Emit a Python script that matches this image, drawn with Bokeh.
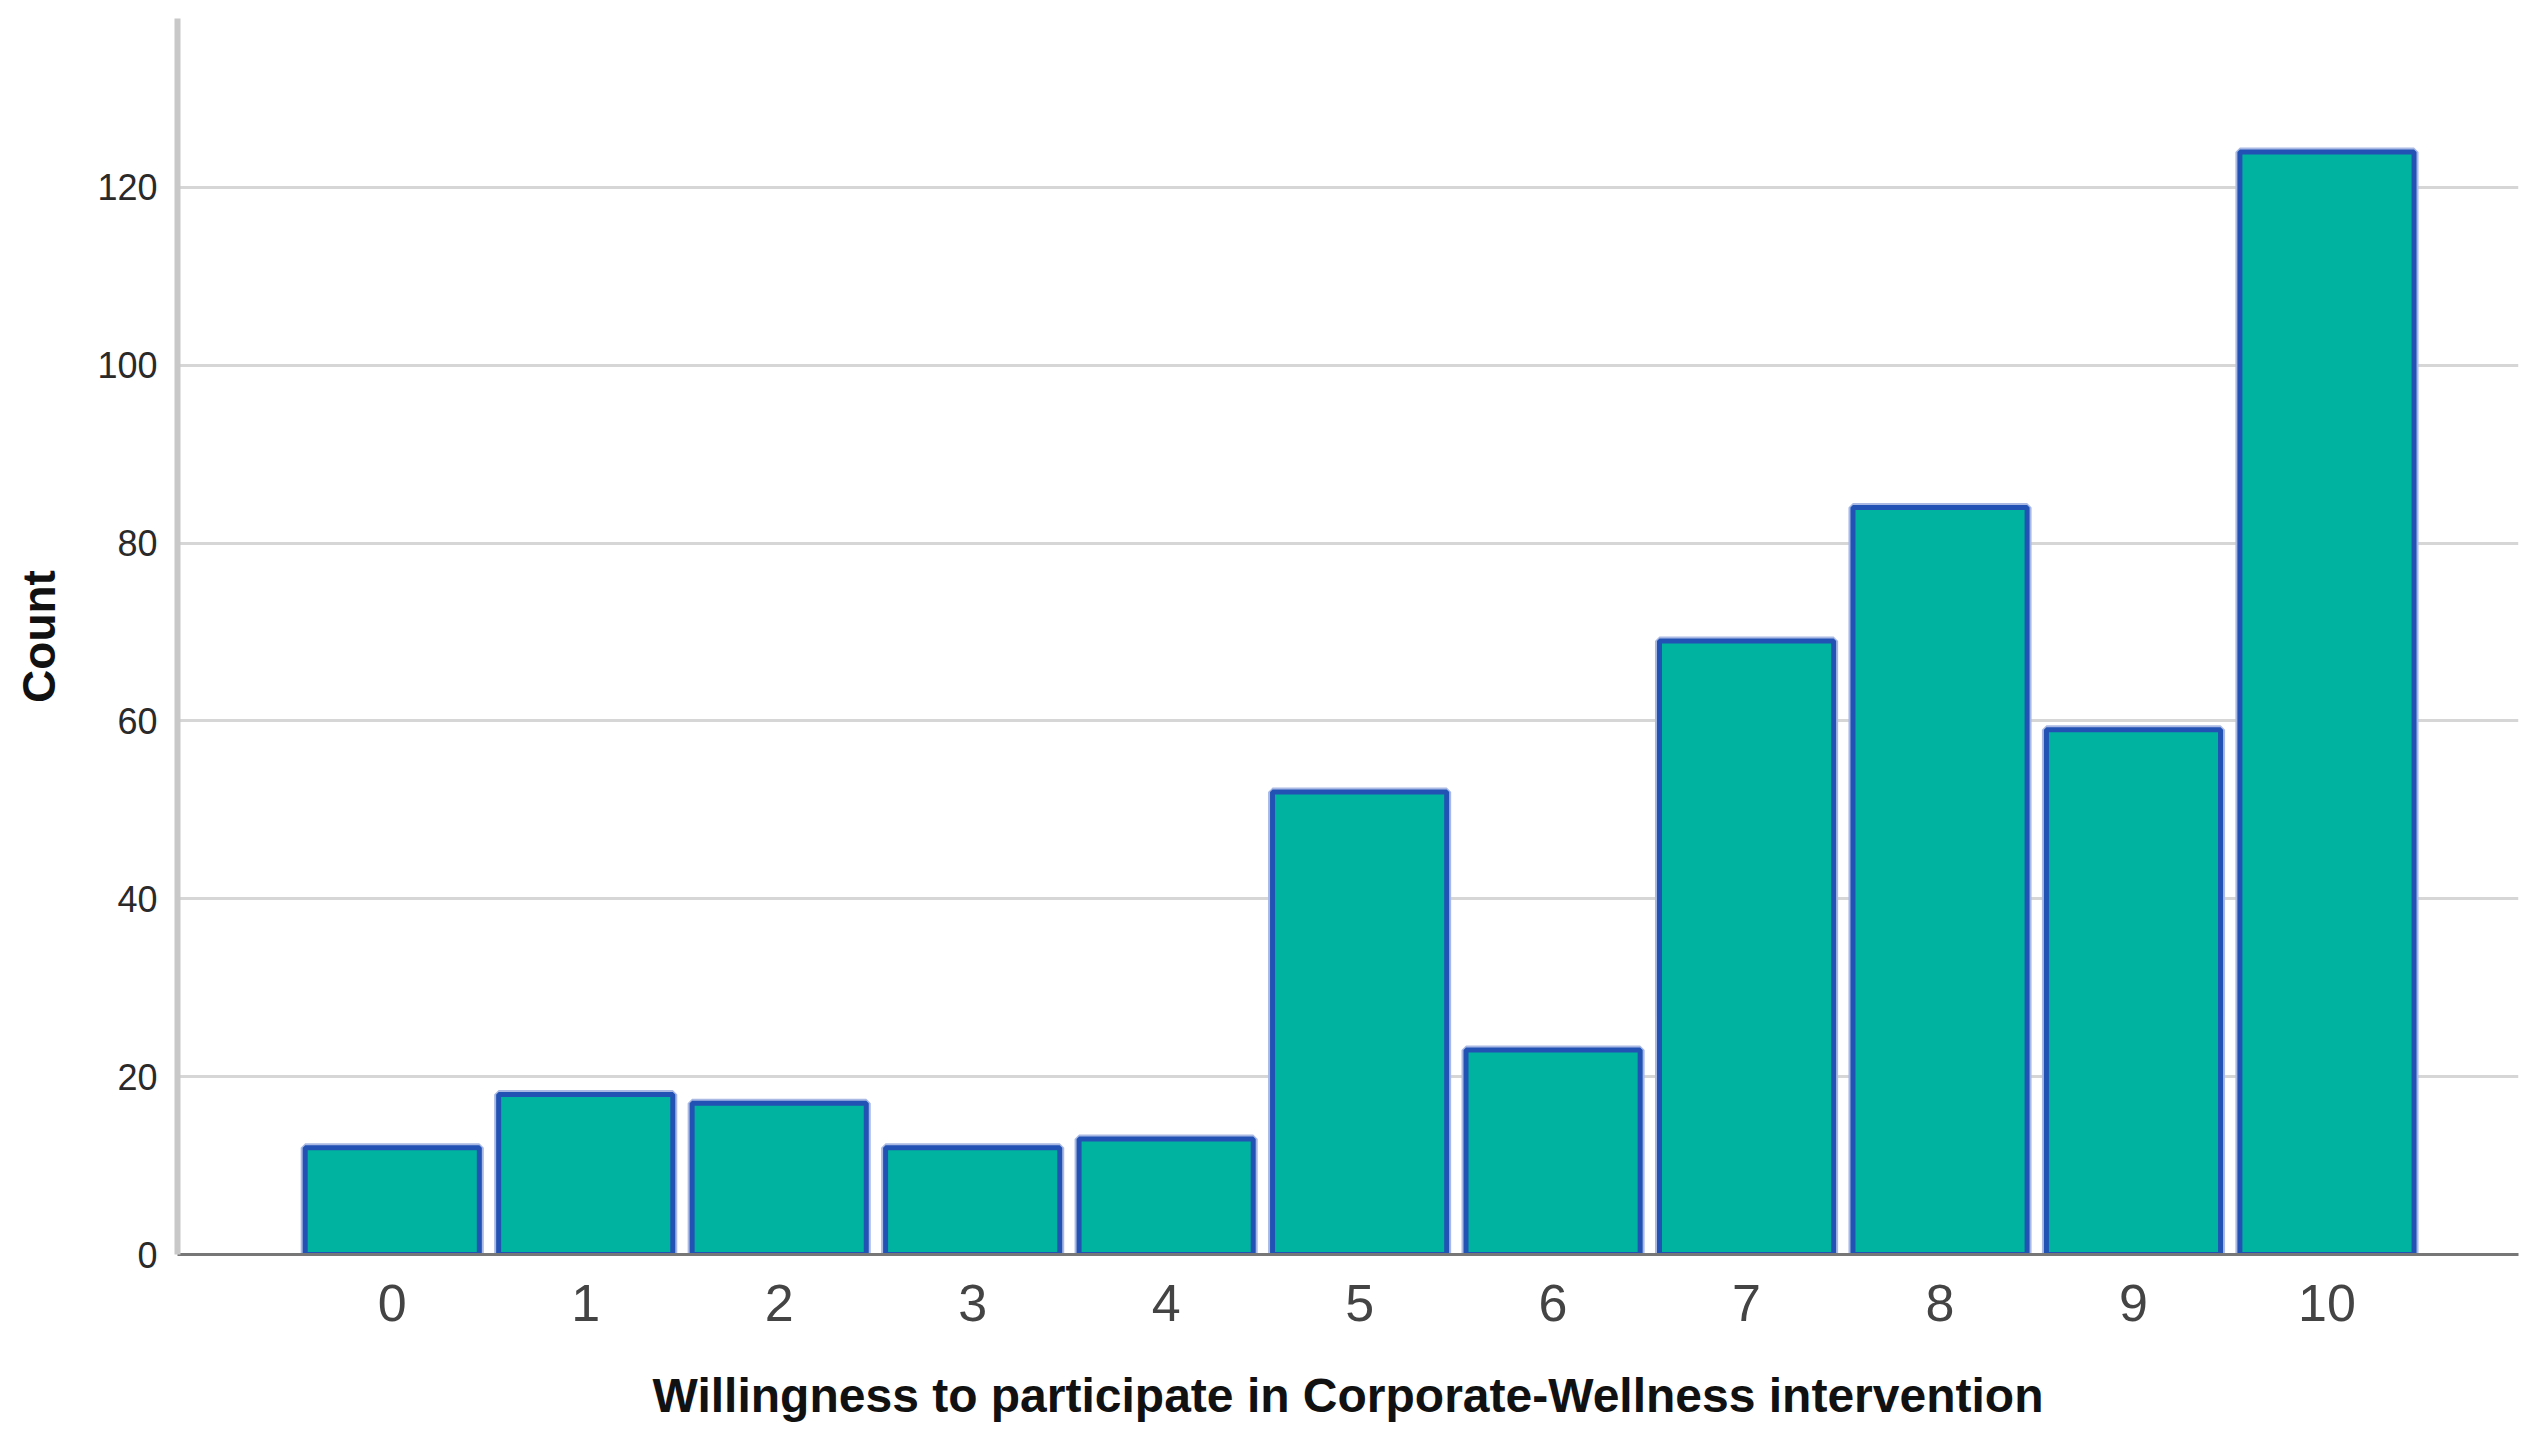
from bokeh.plotting import figure
from bokeh.models import Range1d, FixedTicker
from bokeh.embed import file_html
from bokeh.resources import INLINE

# Data
categories = [0, 1, 2, 3, 4, 5, 6, 7, 8, 9, 10]
counts = [12, 18, 17, 12, 13, 52, 23, 69, 84, 59, 124]
y_ticks = [0, 20, 40, 60, 80, 100, 120]
x_title = "Willingness to participate in Corporate-Wellness intervention"
y_title = "Count"

p = figure(width=2519, height=1433, output_backend="svg", toolbar_location=None,
           x_range=Range1d(-1.11, 10.99), y_range=Range1d(0, 139),
           min_border_left=177, min_border_right=1, min_border_top=18, min_border_bottom=179)
p.outline_line_color = None
p.background_fill_color = "white"

# bars: halo then main outline
p.vbar(x=categories, top=counts, width=0.9, bottom=0,
       fill_color="#00B3A0", line_color="#A9B9E4", line_width=9)
p.vbar(x=categories, top=counts, width=0.9, bottom=0,
       fill_color="#00B3A0", line_color="#2252B4", line_width=5)

# grid
p.xgrid.grid_line_color = None
p.ygrid.grid_line_color = "#d6d6d6"
p.ygrid.grid_line_width = 3
p.ygrid.ticker = FixedTicker(ticks=y_ticks)

# x axis
xa = p.xaxis[0]
xa.ticker = FixedTicker(ticks=categories)
xa.axis_line_color = "#777777"
xa.axis_line_width = 3
xa.major_tick_line_color = None
xa.minor_tick_line_color = None
xa.major_label_text_font = "Liberation Sans"
xa.major_label_text_font_size = "52px"
xa.major_label_text_color = "#444444"
xa.major_label_standoff = 24
xa.axis_label = x_title
xa.axis_label_text_font = "Liberation Sans"
xa.axis_label_text_font_style = "bold"
xa.axis_label_text_font_size = "48px"
xa.axis_label_text_color = "#111111"
xa.axis_label_standoff = 45

# y axis
ya = p.yaxis[0]
ya.ticker = FixedTicker(ticks=y_ticks)
ya.axis_line_color = "#c8c8c8"
ya.axis_line_width = 6
ya.major_tick_line_color = None
ya.minor_tick_line_color = None
ya.major_label_text_font = "Liberation Sans"
ya.major_label_text_font_size = "36px"
ya.major_label_text_color = "#2a2a2a"
ya.major_label_standoff = 14
ya.axis_label = y_title
ya.axis_label_text_font = "Liberation Sans"
ya.axis_label_text_font_style = "bold"
ya.axis_label_text_font_size = "46px"
ya.axis_label_text_color = "#111111"
ya.axis_label_standoff = 29

open("out.html", "w").write(file_html(p, INLINE))
